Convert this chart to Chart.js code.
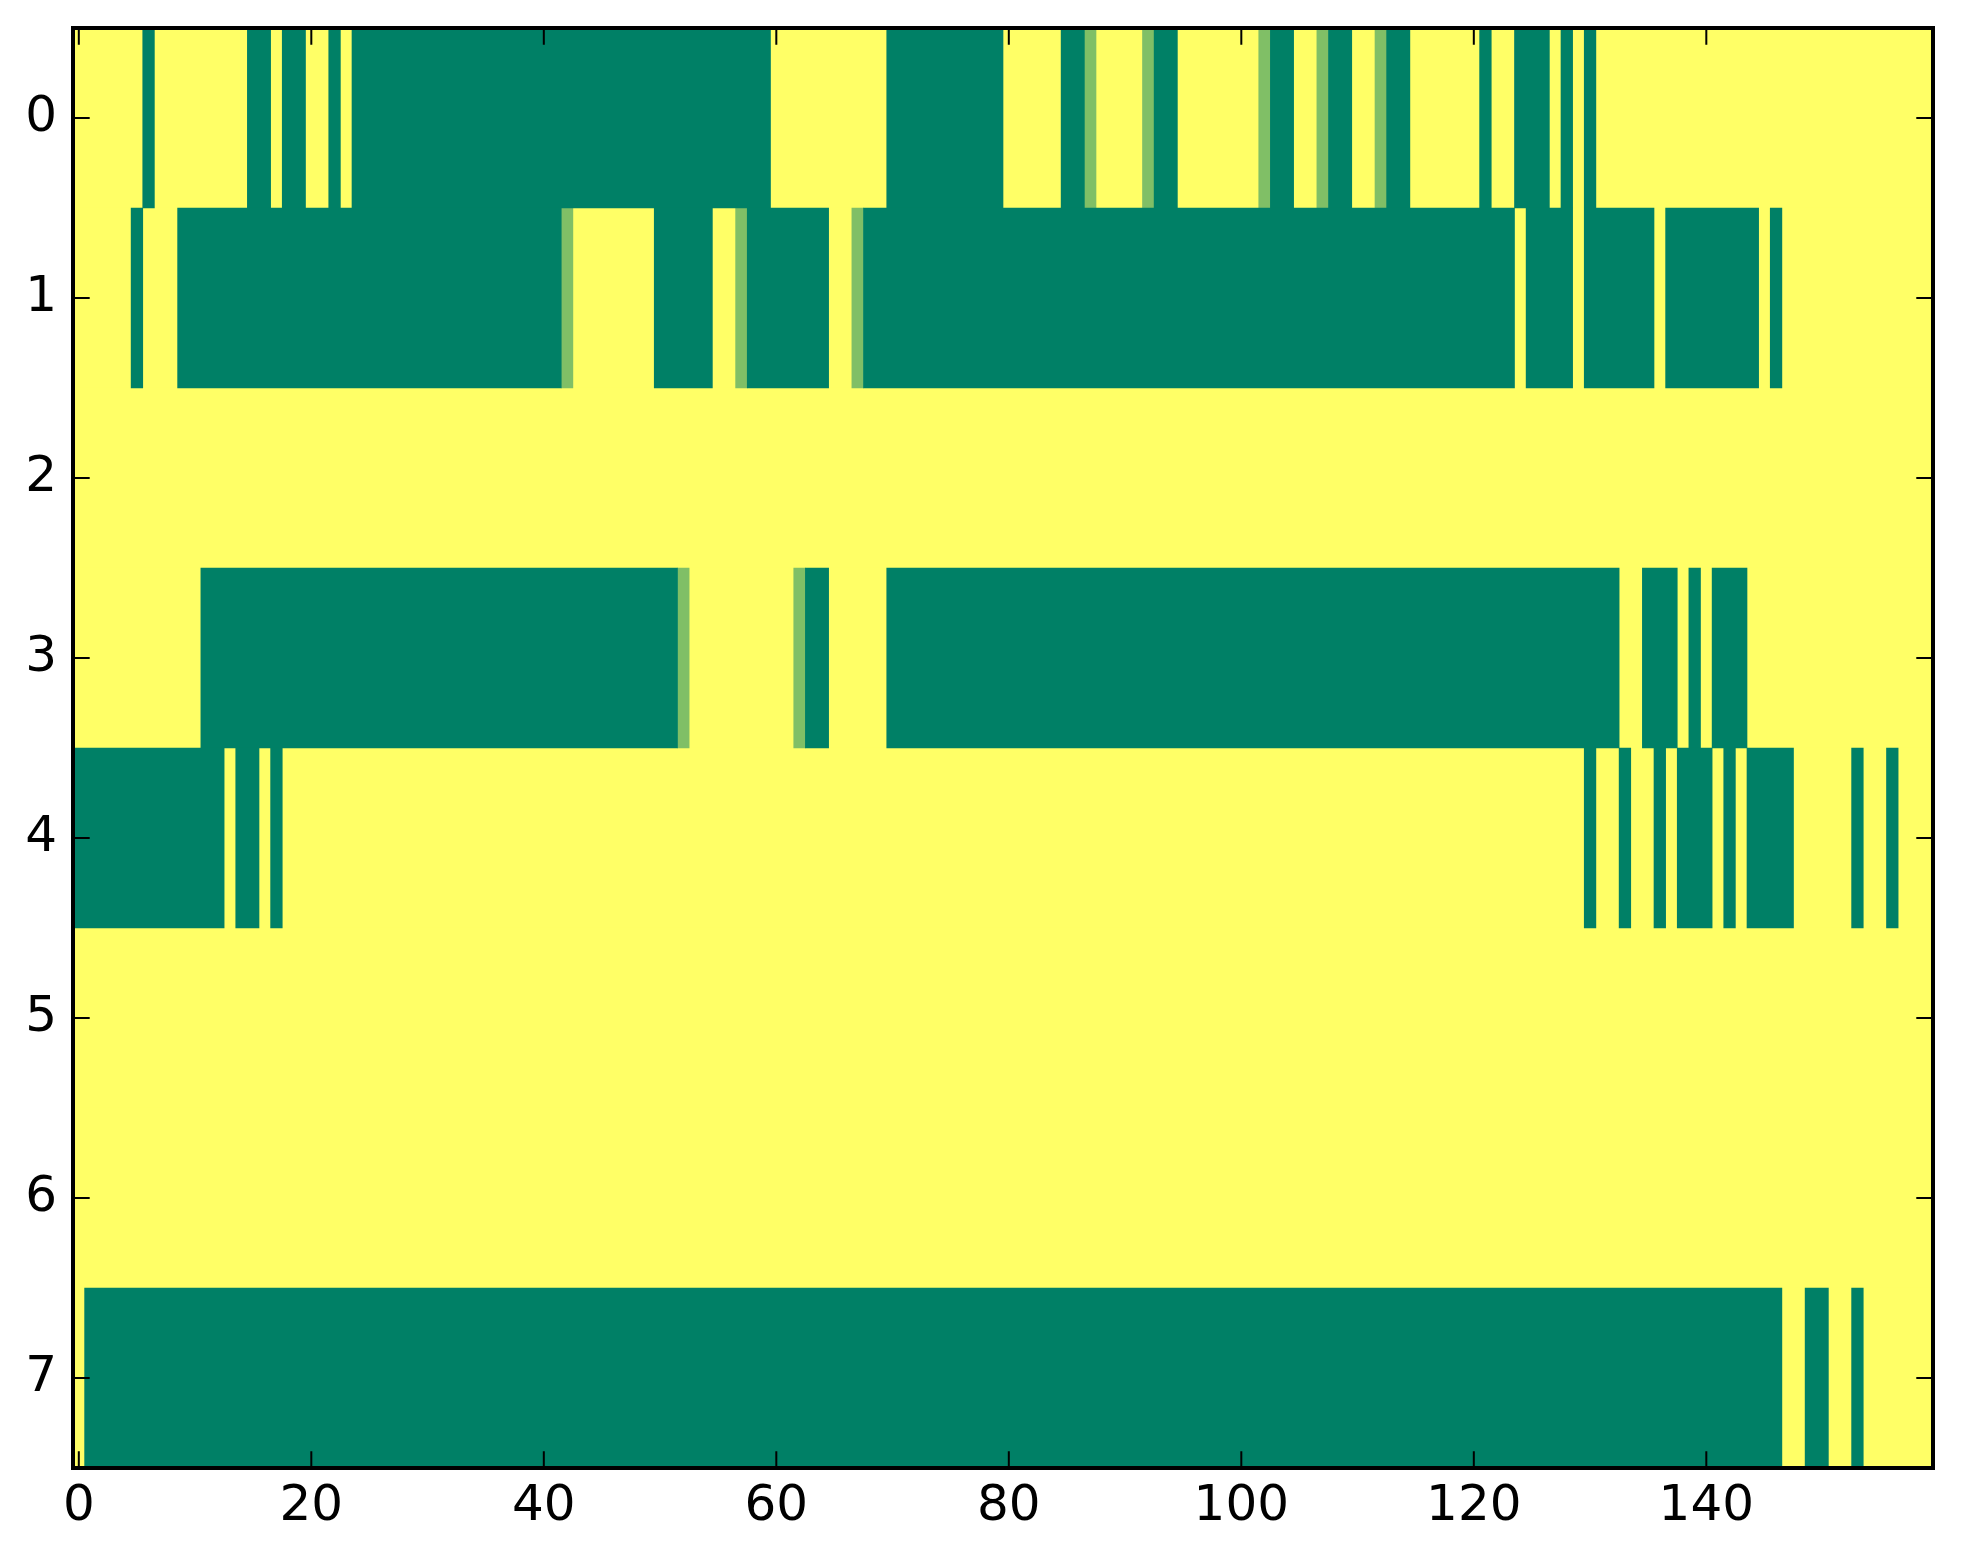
<!DOCTYPE html>
<html>
<head>
<meta charset="utf-8">
<script src="https://cdn.jsdelivr.net/npm/chart.js@4.4.1/dist/chart.umd.min.js"></script>
<style>
  html, body { margin: 0; padding: 0; background: #fff; }
  canvas { display: block; }
</style>
</head>
<body>
<canvas id="chart" width="1963" height="1564" style="width:1963px;height:1564px"></canvas>
<script>
// cell values, one array per image row (0 = dark green, 0.5 = light green, 1 = yellow)
var row0 = [
  1,1,1,1,1,1,0,1,1,1,1,1,1,1,1,0,0,1,0,0,
  1,1,0,1,0,0,0,0,0,0,0,0,0,0,0,0,0,0,0,0,
  0,0,0,0,0,0,0,0,0,0,0,0,0,0,0,0,0,0,0,0,
  1,1,1,1,1,1,1,1,1,1,0,0,0,0,0,0,0,0,0,0,
  1,1,1,1,1,0,0,.5,1,1,1,1,.5,0,0,1,1,1,1,1,
  1,1,.5,0,0,1,1,.5,0,0,1,1,.5,0,0,1,1,1,1,1,
  1,0,1,1,0,0,0,1,0,1,0,1,1,1,1,1,1,1,1,1,
  1,1,1,1,1,1,1,1,1,1,1,1,1,1,1,1,1,1,1,1
];
var row1 = [
  1,1,1,1,1,0,1,1,1,0,0,0,0,0,0,0,0,0,0,0,
  0,0,0,0,0,0,0,0,0,0,0,0,0,0,0,0,0,0,0,0,
  0,0,.5,1,1,1,1,1,1,1,0,0,0,0,0,1,1,.5,0,0,
  0,0,0,0,0,1,1,.5,0,0,0,0,0,0,0,0,0,0,0,0,
  0,0,0,0,0,0,0,0,0,0,0,0,0,0,0,0,0,0,0,0,
  0,0,0,0,0,0,0,0,0,0,0,0,0,0,0,0,0,0,0,0,
  0,0,0,0,1,0,0,0,0,1,0,0,0,0,0,0,1,0,0,0,
  0,0,0,0,0,1,0,1,1,1,1,1,1,1,1,1,1,1,1,1
];
var row2 = [
  1,1,1,1,1,1,1,1,1,1,1,1,1,1,1,1,1,1,1,1,
  1,1,1,1,1,1,1,1,1,1,1,1,1,1,1,1,1,1,1,1,
  1,1,1,1,1,1,1,1,1,1,1,1,1,1,1,1,1,1,1,1,
  1,1,1,1,1,1,1,1,1,1,1,1,1,1,1,1,1,1,1,1,
  1,1,1,1,1,1,1,1,1,1,1,1,1,1,1,1,1,1,1,1,
  1,1,1,1,1,1,1,1,1,1,1,1,1,1,1,1,1,1,1,1,
  1,1,1,1,1,1,1,1,1,1,1,1,1,1,1,1,1,1,1,1,
  1,1,1,1,1,1,1,1,1,1,1,1,1,1,1,1,1,1,1,1
];
var row3 = [
  1,1,1,1,1,1,1,1,1,1,1,0,0,0,0,0,0,0,0,0,
  0,0,0,0,0,0,0,0,0,0,0,0,0,0,0,0,0,0,0,0,
  0,0,0,0,0,0,0,0,0,0,0,0,.5,1,1,1,1,1,1,1,
  1,1,.5,0,0,1,1,1,1,1,0,0,0,0,0,0,0,0,0,0,
  0,0,0,0,0,0,0,0,0,0,0,0,0,0,0,0,0,0,0,0,
  0,0,0,0,0,0,0,0,0,0,0,0,0,0,0,0,0,0,0,0,
  0,0,0,0,0,0,0,0,0,0,0,0,0,1,1,0,0,0,1,0,
  1,0,0,0,1,1,1,1,1,1,1,1,1,1,1,1,1,1,1,1
];
var row4 = [
  0,0,0,0,0,0,0,0,0,0,0,0,0,1,0,0,1,0,1,1,
  1,1,1,1,1,1,1,1,1,1,1,1,1,1,1,1,1,1,1,1,
  1,1,1,1,1,1,1,1,1,1,1,1,1,1,1,1,1,1,1,1,
  1,1,1,1,1,1,1,1,1,1,1,1,1,1,1,1,1,1,1,1,
  1,1,1,1,1,1,1,1,1,1,1,1,1,1,1,1,1,1,1,1,
  1,1,1,1,1,1,1,1,1,1,1,1,1,1,1,1,1,1,1,1,
  1,1,1,1,1,1,1,1,1,1,0,1,1,0,1,1,0,1,0,0,
  0,1,0,1,0,0,0,0,1,1,1,1,1,0,1,1,0,1,1,1
];
var row5 = [
  1,1,1,1,1,1,1,1,1,1,1,1,1,1,1,1,1,1,1,1,
  1,1,1,1,1,1,1,1,1,1,1,1,1,1,1,1,1,1,1,1,
  1,1,1,1,1,1,1,1,1,1,1,1,1,1,1,1,1,1,1,1,
  1,1,1,1,1,1,1,1,1,1,1,1,1,1,1,1,1,1,1,1,
  1,1,1,1,1,1,1,1,1,1,1,1,1,1,1,1,1,1,1,1,
  1,1,1,1,1,1,1,1,1,1,1,1,1,1,1,1,1,1,1,1,
  1,1,1,1,1,1,1,1,1,1,1,1,1,1,1,1,1,1,1,1,
  1,1,1,1,1,1,1,1,1,1,1,1,1,1,1,1,1,1,1,1
];
var row6 = [
  1,1,1,1,1,1,1,1,1,1,1,1,1,1,1,1,1,1,1,1,
  1,1,1,1,1,1,1,1,1,1,1,1,1,1,1,1,1,1,1,1,
  1,1,1,1,1,1,1,1,1,1,1,1,1,1,1,1,1,1,1,1,
  1,1,1,1,1,1,1,1,1,1,1,1,1,1,1,1,1,1,1,1,
  1,1,1,1,1,1,1,1,1,1,1,1,1,1,1,1,1,1,1,1,
  1,1,1,1,1,1,1,1,1,1,1,1,1,1,1,1,1,1,1,1,
  1,1,1,1,1,1,1,1,1,1,1,1,1,1,1,1,1,1,1,1,
  1,1,1,1,1,1,1,1,1,1,1,1,1,1,1,1,1,1,1,1
];
var row7 = [
  1,0,0,0,0,0,0,0,0,0,0,0,0,0,0,0,0,0,0,0,
  0,0,0,0,0,0,0,0,0,0,0,0,0,0,0,0,0,0,0,0,
  0,0,0,0,0,0,0,0,0,0,0,0,0,0,0,0,0,0,0,0,
  0,0,0,0,0,0,0,0,0,0,0,0,0,0,0,0,0,0,0,0,
  0,0,0,0,0,0,0,0,0,0,0,0,0,0,0,0,0,0,0,0,
  0,0,0,0,0,0,0,0,0,0,0,0,0,0,0,0,0,0,0,0,
  0,0,0,0,0,0,0,0,0,0,0,0,0,0,0,0,0,0,0,0,
  0,0,0,0,0,0,0,1,1,0,0,1,1,0,1,1,1,1,1,1
];

var rowLabels = ['0','1','2','3','4','5','6','7'];
var xTicks = [0, 20, 40, 60, 80, 100, 120, 140];
var levels = [0, 0.5, 1];

var rows = [row0, row1, row2, row3, row4, row5, row6, row7];

// matplotlib "summer" colormap
function summer(v) {
  var r = Math.round(255 * v), g = Math.round(255 * (0.5 + 0.5 * v)), b = Math.round(255 * 0.4);
  return 'rgb(' + r + ',' + g + ',' + b + ')';
}

// merge neighbouring cells of the same value into one floating bar
var runs = [];
rows.forEach(function (row, r) {
  var start = 0;
  for (var c = 1; c <= row.length; c++) {
    if (c === row.length || row[c] !== row[start]) {
      runs.push({ v: row[start], x: [start - 0.5, c - 0.5], y: rowLabels[r] });
      start = c;
    }
  }
});

var datasets = levels.map(function (lv) {
  return {
    label: String(lv),
    data: runs.filter(function (d) { return d.v === lv; }).map(function (d) { return { x: d.x, y: d.y }; }),
    backgroundColor: summer(lv),
    borderWidth: 0,
    barPercentage: 1,
    categoryPercentage: 1,
    grouped: false
  };
});

// inward ticks on all four sides + the black frame
var frame = {
  id: 'frame',
  afterDraw: function (chart) {
    var ctx = chart.ctx, a = chart.chartArea;
    var xs = chart.scales.x, ys = chart.scales.y;
    var len = 16.7;
    ctx.save();
    ctx.strokeStyle = '#000';
    ctx.lineWidth = 2;
    ctx.beginPath();
    xTicks.forEach(function (v) {
      var px = xs.getPixelForValue(v);
      ctx.moveTo(px, a.bottom); ctx.lineTo(px, a.bottom - len);
      ctx.moveTo(px, a.top); ctx.lineTo(px, a.top + len);
    });
    rowLabels.forEach(function (l, i) {
      var py = ys.getPixelForValue(i);
      ctx.moveTo(a.left, py); ctx.lineTo(a.left + len, py);
      ctx.moveTo(a.right, py); ctx.lineTo(a.right - len, py);
    });
    ctx.stroke();
    ctx.lineWidth = 4;
    ctx.strokeRect(a.left, a.top, a.right - a.left, a.bottom - a.top);
    ctx.restore();
  }
};

Chart.defaults.font.family = 'DejaVu Sans';
Chart.defaults.color = '#000';

var myChart = new Chart('chart', {
  type: 'bar',
  data: { labels: rowLabels, datasets: datasets },
  options: {
    indexAxis: 'y',
    responsive: false,
    animation: false,
    devicePixelRatio: 1,
    layout: { padding: { left: 0, right: 30, top: 28, bottom: 0 } },
    plugins: { legend: { display: false }, tooltip: { enabled: false } },
    scales: {
      x: {
        type: 'linear',
        position: 'bottom',
        min: -0.5,
        max: 159.5,
        grid: { display: false, drawTicks: false },
        border: { display: false },
        ticks: { font: { size: 50 }, padding: 9, maxRotation: 0 },
        afterBuildTicks: function (s) { s.ticks = xTicks.map(function (v) { return { value: v }; }); },
        afterFit: function (s) { s.height = 96; s.paddingLeft = 0; s.paddingRight = 0; }
      },
      y: {
        type: 'category',
        labels: rowLabels,
        offset: true,
        grid: { display: false, drawTicks: false },
        border: { display: false },
        ticks: { font: { size: 50 }, padding: 16 },
        afterFit: function (s) { s.width = 73; s.paddingTop = 0; s.paddingBottom = 0; }
      }
    }
  },
  plugins: [frame]
});
</script>
</body>
</html>
